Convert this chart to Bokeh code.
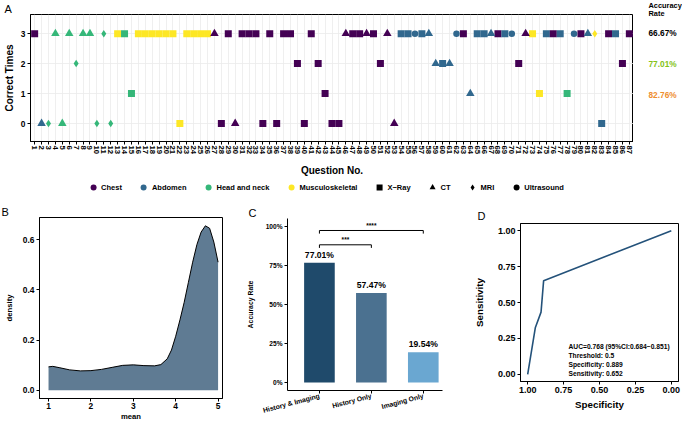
import math
from bokeh.plotting import figure
from bokeh.models import (Range1d, FixedTicker, Legend, LegendItem,
                          ColumnDataSource, NumeralTickFormatter)
from bokeh.layouts import column, row
from bokeh.embed import file_html
from bokeh.resources import INLINE
from bokeh.core.properties import value

FONT = "Liberation Sans"

# ---------------- data: panel A ----------------
question_no = list(range(1, 88))
correct_times = [3, 0, 0, 3, 0, 3, 2, 3, 3, 0,
                 3, 0, 3, 3, 1, 3, 3, 3, 3, 3,
                 3, 0, 3, 3, 3, 3, 3, 0, 3, 0,
                 3, 3, 3, 0, 3, 0, 3, 3, 2, 0,
                 3, 2, 1, 0, 0, 3, 3, 3, 3, 3,
                 2, 3, 0, 3, 3, 3, 3, 3, 2, 2,
                 2, 3, 3, 1, 3, 3, 3, 3, 3, 3,
                 2, 3, 3, 1, 3, 3, 3, 1, 3, 3,
                 3, 3, 0, 3, 3, 2, 3]
region_codes = ("CAHHHHHHHH" "HHMHHMMMMM" "MMMMMMCCCC" "CCCCCCCCCC" "CCCCCCCCCC"
                "CCCAAAAAAA" "AACAAAACAA" "CCMMACAHAC" "AMACACC")
modality_codes = ["X", "CT", "MRI", "CT", "CT", "CT", "MRI", "CT", "CT", "MRI",
                  "MRI", "MRI", "X", "X", "X", "X", "X", "X", "X", "X",
                  "X", "X", "X", "X", "X", "X", "CT", "X", "X", "CT",
                  "X", "X", "X", "X", "X", "X", "X", "X", "X", "X",
                  "X", "X", "X", "X", "X", "CT", "X", "X", "CT", "X",
                  "X", "CT", "CT", "X", "X", "US", "X", "CT", "CT", "X",
                  "CT", "US", "X", "CT", "X", "X", "CT", "X", "X", "US",
                  "X", "CT", "X", "X", "X", "X", "X", "X", "US", "X",
                  "CT", "MRI", "X", "X", "X", "X", "X"]
region_names = {"C": "Chest", "A": "Abdomen", "H": "Head and neck", "M": "Musculoskeletal"}
modality_names = {"X": "X\u2212Ray", "CT": "CT", "MRI": "MRI", "US": "Ultrasound"}
acc_levels = [3, 2, 1]
acc_labels = ["66.67%", "77.01%", "82.76%"]
acc_header = ["Accuracy", "Rate"]

# ---------------- data: panel B ----------------
mean_x = [1.0, 1.1, 1.25, 1.5, 1.75, 2.0, 2.25, 2.5, 2.75, 3.0, 3.25, 3.5, 3.65,
          3.8, 3.9, 4.0, 4.1, 4.2, 4.3, 4.4, 4.5, 4.6, 4.7, 4.8, 4.9, 5.0]
density_y = [0.093, 0.095, 0.09, 0.081, 0.077, 0.078, 0.083, 0.091, 0.099, 0.101,
             0.098, 0.097, 0.102, 0.125, 0.16, 0.215, 0.28, 0.35, 0.43, 0.51,
             0.58, 0.63, 0.655, 0.645, 0.59, 0.51]

# ---------------- data: panel C ----------------
groups = ["History & Imaging", "History Only", "Imaging Only"]
accuracy = [0.7701, 0.5747, 0.1954]
acc_text = ["77.01%", "57.47%", "19.54%"]
sig_pairs = [(1, 3), (1, 2)]
sig_labels = ["****", "***"]
sig_heights = [0.977, 0.885]

# ---------------- data: panel D ----------------
roc_spec = [1.0, 0.947, 0.907, 0.889, 0.0]
roc_sens = [0.0, 0.324, 0.433, 0.652, 1.0]
roc_notes = ["AUC=0.768 (95%CI:0.684\u22120.851)", "Threshold: 0.5",
             "Specificity: 0.889", "Sensitivity: 0.652"]
note_y = [0.194, 0.130, 0.067, 0.005]

# ---------------- styles ----------------
region_colors = {"C": "#440154", "A": "#31688E", "H": "#35B779", "M": "#FDE725"}
modality_marker = {"X": "square", "CT": "triangle", "MRI": "diamond", "US": "circle"}
modality_size = {"X": 7, "CT": 8.5, "MRI": 7.5, "US": 6.5}
acc_colors = ["#000000", "#84C318", "#EE8E2F"]
bar_colors = ["#1F4A6B", "#4B7190", "#6AA7D1"]


def base_axes(p, tick_size, label_size):
    for ax in (p.xaxis[0], p.yaxis[0]):
        ax.major_label_text_font = FONT
        ax.major_label_text_font_style = "bold"
        ax.major_label_text_font_size = tick_size
        ax.major_label_text_color = "black"
        ax.axis_label_text_font = FONT
        ax.axis_label_text_font_style = "bold"
        ax.axis_label_text_font_size = label_size
        ax.axis_label_text_color = "black"
        ax.major_tick_in = 0
        ax.major_tick_out = 3
        ax.minor_tick_line_color = None
        ax.major_tick_line_color = "black"
        ax.axis_line_color = "black"
        ax.major_label_standoff = 2
        ax.axis_label_standoff = 3


def tag(p, text, offset, standoff):
    p.title.text = text
    p.title.align = "left"
    p.title.offset = offset
    p.title.standoff = standoff
    p.title.text_font = FONT
    p.title.text_font_style = "normal"
    p.title.text_font_size = "11px"
    p.title.text_color = "black"


# ================= Panel A =================
A_TOP, A_BOT, A_H = 13, 35, 179
pA = figure(width=633, height=A_H, x_range=Range1d(0.4, 87.6), y_range=Range1d(-0.6, 3.64),
            output_backend="svg", toolbar_location=None,
            min_border_left=28, min_border_right=0, min_border_top=A_TOP, min_border_bottom=A_BOT)
pA.outline_line_color = "black"
pA.outline_line_width = 1
base_axes(pA, "7.8px", "10px")
pA.yaxis.major_label_text_font_size = "8.4px"
pA.xaxis.ticker = FixedTicker(ticks=question_no)
pA.yaxis.ticker = FixedTicker(ticks=[0, 1, 2, 3])
pA.xaxis.major_label_orientation = "vertical"
pA.xaxis.axis_label = "Question No."
pA.yaxis.axis_label = "Correct Times"
pA.xaxis.major_label_standoff = 1
pA.xaxis.axis_label_standoff = 8
pA.yaxis.axis_label_standoff = 3
pA.xgrid.ticker = FixedTicker(ticks=question_no)
pA.ygrid.ticker = FixedTicker(ticks=[0, 1, 2, 3])
pA.grid.grid_line_color = "#EBEBEB"
pA.grid.grid_line_width = 0.8
tag(pA, "A", -26, 0)

for mod in ["X", "CT", "MRI", "US"]:
    idx = [i for i in range(len(question_no)) if modality_codes[i] == mod]
    src = ColumnDataSource(dict(
        q=[question_no[i] for i in idx],
        c=[correct_times[i] for i in idx],
        col=[region_colors[region_codes[i]] for i in idx]))
    pA.scatter(x="q", y="c", source=src, marker=modality_marker[mod],
               size=modality_size[mod], fill_color="col", line_color=None)

# accuracy-rate strip (right of panel A), same vertical scale as panel A
uy = (A_H - A_TOP - A_BOT) / 4.24
acc_top = 3.64 + A_TOP / uy
pAcc = figure(width=49, height=A_H, x_range=Range1d(0, 49), y_range=Range1d(-0.6, acc_top),
              output_backend="svg", toolbar_location=None, x_axis_type=None, y_axis_type=None,
              min_border_left=0, min_border_right=0, min_border_top=0, min_border_bottom=A_BOT)
pAcc.outline_line_color = None
pAcc.grid.grid_line_color = None
pAcc.text(x=[15] * 3, y=acc_levels, text=acc_labels, text_color=acc_colors,
          text_font=value(FONT), text_font_style="bold", text_font_size="8.3px",
          text_align="left", text_baseline="middle")
pAcc.text(x=[15, 15], y=[acc_top - 4.6 / uy, acc_top - 13 / uy], text=acc_header,
          text_color="black", text_font=value(FONT), text_font_style="bold",
          text_font_size="7.4px", text_align="left", text_baseline="middle")

# legend strip below panel A
pLeg = figure(width=682, height=16, x_range=Range1d(0, 1), y_range=Range1d(0, 1),
              output_backend="svg", toolbar_location=None, x_axis_type=None, y_axis_type=None,
              min_border_left=0, min_border_right=33, min_border_top=0, min_border_bottom=0)
pLeg.outline_line_color = None
pLeg.grid.grid_line_color = None
items = []
for code in ["C", "A", "H", "M"]:
    r = pLeg.scatter(x=[-5], y=[-5], marker="circle", size=6.5, line_color=None,
                     fill_color=region_colors[code])
    items.append(LegendItem(label=region_names[code], renderers=[r]))
for mod in ["X", "CT", "MRI", "US"]:
    r = pLeg.scatter(x=[-5], y=[-5], marker=modality_marker[mod], size=6.5,
                     line_color=None, fill_color="black")
    items.append(LegendItem(label=modality_names[mod], renderers=[r]))
leg = Legend(items=items, orientation="horizontal", location="center",
             glyph_width=15, glyph_height=15, label_standoff=1, spacing=14,
             padding=0, margin=0, label_height=10, label_width=0,
             border_line_color=None, background_fill_alpha=0,
             label_text_font=FONT, label_text_font_style="bold",
             label_text_font_size="7.5px", label_text_color="black")
pLeg.add_layout(leg, "center")

# ================= Panel B =================
ROW_H = 231
pB = figure(width=236, height=ROW_H, x_range=Range1d(0.787, 5.104), y_range=Range1d(-0.033, 0.688),
            output_backend="svg", toolbar_location=None,
            min_border_left=39, min_border_right=14, min_border_top=22, min_border_bottom=28)
pB.outline_line_color = "black"
pB.grid.grid_line_color = None
base_axes(pB, "8.4px", "7.7px")
pB.xaxis.ticker = FixedTicker(ticks=[1, 2, 3, 4, 5])
pB.yaxis.ticker = FixedTicker(ticks=[0, 0.2, 0.4, 0.6])
pB.yaxis.formatter = NumeralTickFormatter(format="0.0")
pB.xaxis.axis_label = "mean"
pB.yaxis.axis_label = "density"
pB.xaxis.major_label_standoff = 1
pB.xaxis.axis_label_standoff = 0
pB.yaxis.axis_label_standoff = 6
srcB = ColumnDataSource(dict(x=mean_x, y=density_y))
pB.varea(x="x", y1=0, y2="y", source=srcB, fill_color="#5F7B93")
pB.line(x="x", y="y", source=srcB, line_color="black", line_width=1)
tag(pB, "B", -38, 0)

# ================= Panel C =================
pC = figure(width=224, height=ROW_H, x_range=Range1d(0.385, 3.37), y_range=Range1d(-0.051, 1.054),
            output_backend="svg", toolbar_location=None,
            min_border_left=51, min_border_right=18, min_border_top=23, min_border_bottom=36)
pC.outline_line_color = None
pC.grid.grid_line_color = None
base_axes(pC, "6.8px", "6.9px")
pC.yaxis.major_label_text_font_size = "6.6px"
pC.xaxis.ticker = FixedTicker(ticks=[1, 2, 3])
pC.xaxis.major_label_overrides = {1: groups[0], 2: groups[1], 3: groups[2]}
pC.xaxis.major_label_orientation = 0.26
pC.yaxis.ticker = FixedTicker(ticks=[0, 0.25, 0.5, 0.75, 1.0])
pC.yaxis.formatter = NumeralTickFormatter(format="0%")
pC.yaxis.axis_label = "Accuracy Rate"
pC.yaxis.axis_label_standoff = 9
xpos = [1, 2, 3]
srcC = ColumnDataSource(dict(x=xpos, top=accuracy, col=bar_colors, lab=acc_text,
                             ly=[a + 0.02 for a in accuracy]))
pC.vbar(x="x", top="top", bottom=0, width=0.59, source=srcC, fill_color="col", line_color=None)
pC.text(x="x", y="ly", text="lab", source=srcC, text_font=value(FONT), text_font_style="bold",
        text_font_size="8.6px", text_align="center", text_baseline="bottom", text_color="black")
tick_len = 0.02
bx0 = [a for a, b in sig_pairs]
bx1 = [b for a, b in sig_pairs]
pC.segment(x0=bx0, y0=sig_heights, x1=bx1, y1=sig_heights, line_color="black", line_width=1)
pC.segment(x0=bx0, y0=sig_heights, x1=bx0, y1=[h - tick_len for h in sig_heights],
           line_color="black", line_width=1)
pC.segment(x0=bx1, y0=sig_heights, x1=bx1, y1=[h - tick_len for h in sig_heights],
           line_color="black", line_width=1)
pC.text(x=[(a + b) / 2 for a, b in sig_pairs], y=[h + 0.012 for h in sig_heights], text=sig_labels,
        text_font=value(FONT), text_font_style="bold", text_font_size="6.5px",
        text_align="center", text_baseline="bottom", text_color="black")
tag(pC, "C", -39, 0)

# ================= Panel D =================
pD = figure(width=222, height=ROW_H, x_range=Range1d(1.05, -0.05), y_range=Range1d(-0.05, 1.05),
            output_backend="svg", toolbar_location=None,
            min_border_left=60, min_border_right=4, min_border_top=28, min_border_bottom=45)
pD.outline_line_color = "black"
pD.grid.grid_line_color = None
base_axes(pD, "9px", "9.8px")
pD.xaxis.ticker = FixedTicker(ticks=[1.0, 0.75, 0.5, 0.25, 0.0])
pD.yaxis.ticker = FixedTicker(ticks=[0.0, 0.25, 0.5, 0.75, 1.0])
pD.xaxis.formatter = NumeralTickFormatter(format="0.00")
pD.yaxis.formatter = NumeralTickFormatter(format="0.00")
pD.xaxis.axis_label = "Specificity"
pD.yaxis.axis_label = "Sensitivity"
pD.yaxis.axis_label_standoff = 10
pD.line(x=roc_spec, y=roc_sens, line_color="#24527A", line_width=1.6)
uxD = 158 / 1.1
pD.text(x=[1.05 - 48 / uxD] * len(roc_notes), y=note_y, text=roc_notes,
        text_font=value(FONT), text_font_style="bold", text_font_size="6.7px",
        text_align="left", text_baseline="middle", text_color="black")
tag(pD, "D", -43, 3)

layout = column(row(column(pA), column(pAcc)), pLeg,
                row(column(pB), column(pC), column(pD)))
open("out.html", "w").write(file_html(layout, INLINE))
